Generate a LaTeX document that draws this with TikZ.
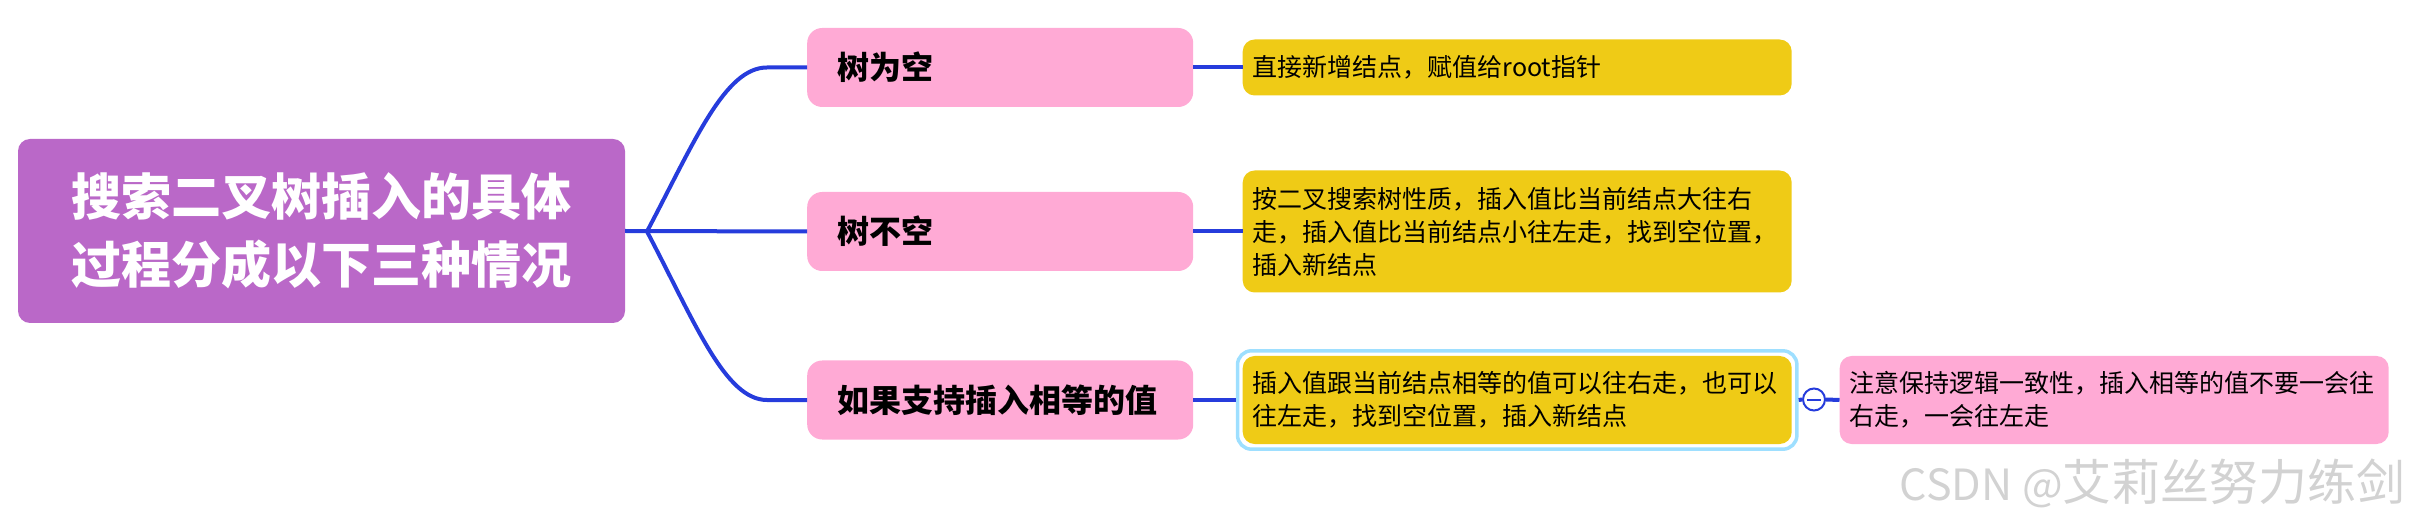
\documentclass[tikz,border=0pt]{standalone}
\usepackage{fontspec}
\setmainfont{Noto Sans CJK SC}
\usetikzlibrary{calc,fit}
\definecolor{rootc}{HTML}{BA68C8}
\definecolor{pinkc}{HTML}{FFAAD5}
\definecolor{yelc}{HTML}{EFCB16}
\definecolor{linec}{HTML}{263CDC}
\definecolor{selc}{HTML}{9EDFFF}
\definecolor{wmc}{HTML}{D2D2D2}
\begin{document}
\begin{tikzpicture}[x=1pt,y=-1pt,
  rootbox/.style={fill=rootc, rounded corners=12pt, text=white,
    font=\fontsize{50pt}{68pt}\selectfont\bfseries, align=center,
    minimum width=607pt, minimum height=184pt, inner sep=0pt},
  topicbox/.style={fill=pinkc, rounded corners=15pt,
    font=\fontsize{32pt}{40pt}\selectfont\bfseries, align=left,
    text width=326pt, inner xsep=30pt, inner ysep=0pt,
    minimum height=79pt, anchor=west},
  notebox/.style={fill=yelc, rounded corners=12pt,
    font=\fontsize{25pt}{33pt}\selectfont, align=left,
    text width=529pt, inner xsep=10pt, inner ysep=0pt, anchor=west},
  pnotebox/.style={notebox, fill=pinkc},
  selbox/.style={draw=selc, line width=3.5pt, rounded corners=14pt, inner sep=5pt},
  conn/.style={draw=linec, line width=4pt},
  foldc/.style={circle, draw=linec, line width=2pt, fill=white, minimum size=22pt, inner sep=0pt,
    path picture={\draw[linec, line width=2pt]
      ([xshift=-7pt]path picture bounding box.center) -- ([xshift=7pt]path picture bounding box.center);}},
  wm/.style={text=wmc, font=\fontsize{49pt}{60pt}\selectfont, inner sep=0pt, anchor=east}
]
\useasboundingbox (0,0) rectangle (2414,526);

\node[rootbox] (root) at (321.5,231) {搜索二叉树插入的具体\\过程分成以下三种情况};

\node[topicbox] (b1) at (807,67.5) {树为空};
\node[topicbox] (b2) at (807,231.5) {树不空};
\node[topicbox] (b3) at (807,400) {如果支持插入相等的值};

\node[notebox, minimum height=56pt] (y1) at (1242.5,67.5) {直接新增结点，赋值给root指针};
\node[notebox, minimum height=122pt] (y2) at (1242.5,231.5) {按二叉搜索树性质，插入值比当前结点大往右\\走，插入值比当前结点小往左走，找到空位置，\\插入新结点};
\node[notebox, minimum height=88pt] (y3) at (1242.5,400) {插入值跟当前结点相等的值可以往右走，也可以\\往左走，找到空位置，插入新结点};
\node[selbox, fit=(y3)] (sel) {};
\node[foldc] (fold) at (1814,399.5) {};
\node[pnotebox, minimum height=88pt] (p4) at (1839.5,400) {注意保持逻辑一致性，插入相等的值不要一会往\\右走，一会往左走};

\coordinate (J) at (647,231.5);

\draw[conn] (root.east) -- (b2.west);
\draw[conn] (J) .. controls ($(J)+(48,-91)$) and ($(b1.west)+(-82,0)$) .. ($(b1.west)+(-40,0)$) -- (b1.west);
\draw[conn] (J) .. controls ($(J)+(48,91)$) and ($(b3.west)+(-82,0)$) .. ($(b3.west)+(-40,0)$) -- (b3.west);
\draw[conn] (b1.east) -- (y1.west);
\draw[conn] (b2.east) -- (y2.west);
\draw[conn] (b3.east) -- (sel.west);
\draw[conn] (sel.east) -- (fold.west);
\draw[conn] (fold.east) -- (p4.west);

\node[wm] (wmark) at (2406,483) {{\fontsize{43pt}{60pt}\selectfont CSDN @}艾莉丝努力练剑};
\end{tikzpicture}
\end{document}
